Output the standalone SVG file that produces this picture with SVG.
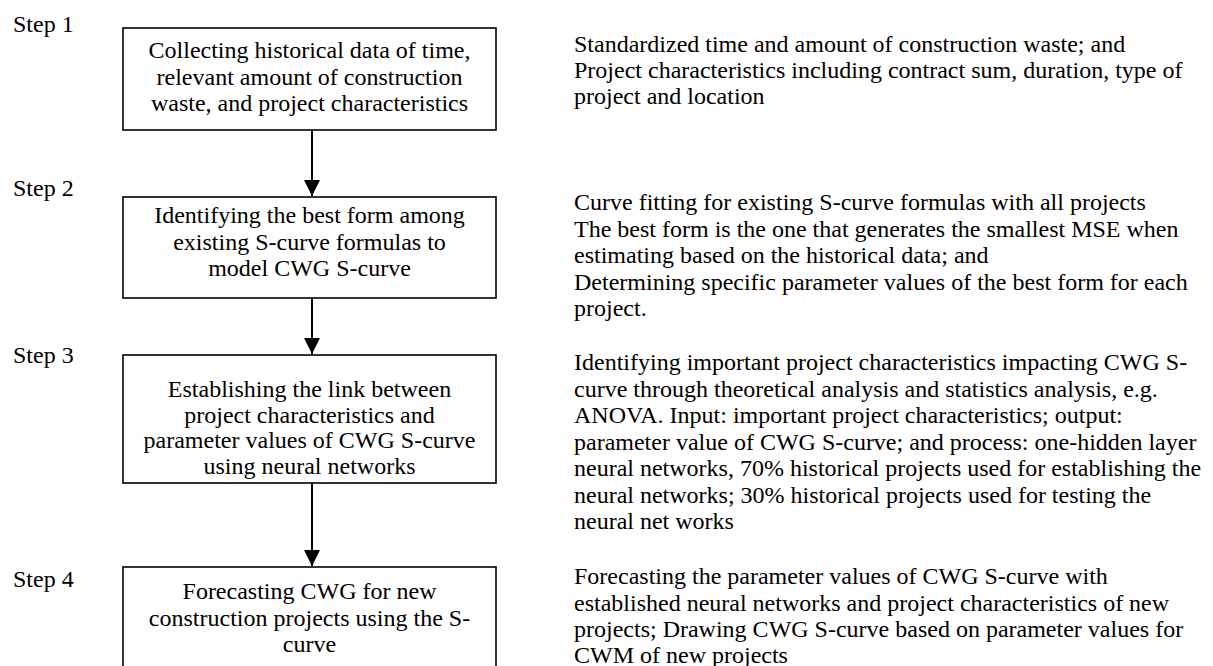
<svg xmlns="http://www.w3.org/2000/svg" width="1213" height="666" viewBox="0 0 1213 666">
<style>
text{font-family:"Liberation Serif","Times New Roman",serif;font-size:24px;fill:#000}
.c{text-anchor:middle}
.box{fill:#fff;stroke:#000;stroke-width:1.6}
.conn{stroke:#000;stroke-width:2;fill:none}
</style>
<defs>
<marker id="ah" markerWidth="8" markerHeight="8" refX="8" refY="4" orient="auto" markerUnits="strokeWidth">
<path d="M0,0 L8,4 L0,8 Z" fill="#000"/>
</marker>
</defs>
<rect width="1213" height="666" fill="#fff"/>
<g id="labels">
<text x="13" y="32">Step 1</text>
<text x="13" y="196">Step 2</text>
<text x="13" y="363">Step 3</text>
<text x="13" y="587">Step 4</text>
</g>
<g id="step1">
<rect class="box" x="123" y="28" width="373" height="102"/>
<text class="c" x="309.5" y="58">Collecting historical data of time,</text>
<text class="c" x="309.5" y="84.5">relevant amount of construction</text>
<text class="c" x="309.5" y="111">waste, and project characteristics</text>
</g>
<g id="step2">
<rect class="box" x="123" y="197" width="373" height="101"/>
<text class="c" x="309.5" y="223">Identifying the best form among</text>
<text class="c" x="309.5" y="249.5">existing S-curve formulas to</text>
<text class="c" x="309.5" y="276">model CWG S-curve</text>
</g>
<g id="step3">
<rect class="box" x="123" y="355" width="373" height="128"/>
<text class="c" x="309.5" y="397">Establishing the link between</text>
<text class="c" x="309.5" y="422.5">project characteristics and</text>
<text class="c" x="309.5" y="448">parameter values of CWG S-curve</text>
<text class="c" x="309.5" y="473.5">using neural networks</text>
</g>
<g id="step4">
<rect class="box" x="123" y="567" width="373" height="120"/>
<text class="c" x="309.5" y="599">Forecasting CWG for new</text>
<text class="c" x="309.5" y="625.5">construction projects using the S-</text>
<text class="c" x="309.5" y="652">curve</text>
</g>
<g id="note1">
<text x="574" y="52">Standardized time and amount of construction waste; and</text>
<text x="574" y="78">Project characteristics including contract sum, duration, type of</text>
<text x="574" y="104">project and location</text>
</g>
<g id="note2">
<text x="574" y="210">Curve fitting for existing S-curve formulas with all projects</text>
<text x="574" y="236.5">The best form is the one that generates the smallest MSE when</text>
<text x="574" y="263">estimating based on the historical data; and</text>
<text x="574" y="289.5">Determining specific parameter values of the best form for each</text>
<text x="574" y="316">project.</text>
</g>
<g id="note3">
<text x="574" y="370">Identifying important project characteristics impacting CWG S-</text>
<text x="574" y="396.5">curve through theoretical analysis and statistics analysis, e.g.</text>
<text x="574" y="423">ANOVA. Input: important project characteristics; output:</text>
<text x="574" y="449.5">parameter value of CWG S-curve; and process: one-hidden layer</text>
<text x="574" y="476">neural networks, 70% historical projects used for establishing the</text>
<text x="574" y="502.5">neural networks; 30% historical projects used for testing the</text>
<text x="574" y="529">neural net works</text>
</g>
<g id="note4">
<text x="574" y="584">Forecasting the parameter values of CWG S-curve with</text>
<text x="574" y="610.5">established neural networks and project characteristics of new</text>
<text x="574" y="637">projects; Drawing CWG S-curve based on parameter values for</text>
<text x="574" y="663">CWM of new projects</text>
</g>
<g id="connectors">
<line class="conn" x1="312" y1="130" x2="312" y2="196" marker-end="url(#ah)"/>
<line class="conn" x1="312" y1="298" x2="312" y2="354" marker-end="url(#ah)"/>
<line class="conn" x1="312" y1="483" x2="312" y2="566" marker-end="url(#ah)"/>
</g>
</svg>
